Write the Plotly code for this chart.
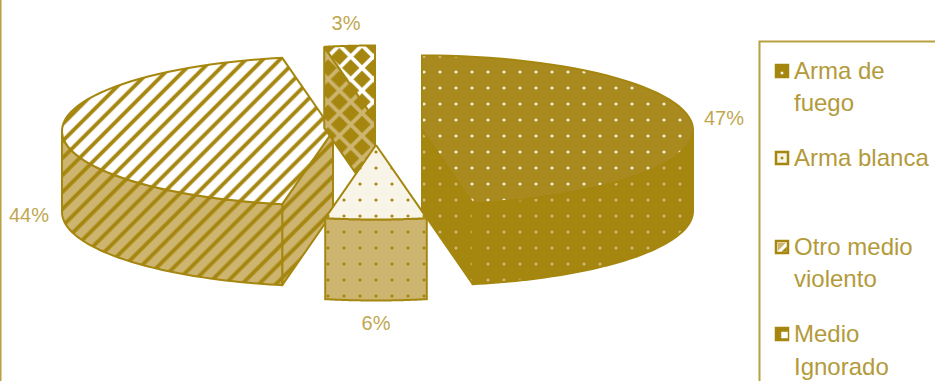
import numpy as np
import plotly.graph_objects as go

# Share of each cause, in percent, clockwise from twelve o'clock
categories = ["Arma de fuego", "Arma blanca", "Otro medio violento", "Medio Ignorado"]
percent = [47, 6, 44, 3]
legend_labels = ["Arma de<br>fuego", "Arma blanca", "Otro medio<br>violento", "Medio<br>Ignorado"]

# Palette
GOLD = "#A5860F"
GOLD_TOP = "#A98A1F"
TAN = "#CDB56F"
IVORY = "#F8F5E8"
WHITE = "#FFFFFF"
TEXT = "#BFA850"
LEGEND_TEXT = "#B39A3A"
FRAME = "#B9A040"

# Projection of the tilted disc, in axis units
RX, RY, DEPTH = 271, 74.5, 81
# Position of each exploded slice's apex on the top face
APEX = {
    "Arma de fuego": (422, 130),
    "Arma blanca": (376, 145),
    "Otro medio violento": (333, 131),
    "Medio Ignorado": (375, 120),
}
# Which straight cut of a slice faces the viewer (0 = leading edge, 1 = trailing edge)
VISIBLE_CUT = {"Arma de fuego": 1, "Otro medio violento": 0, "Medio Ignorado": 0}


def rim(apex, a0, a1, n=60):
    """Points on the elliptical rim between two clockwise angles (degrees)."""
    t = np.radians(np.linspace(a0, a1, n))
    return apex[0] + RX * np.sin(t), apex[1] - RY * np.cos(t)


def top_face(apex, a0, a1):
    x, y = rim(apex, a0, a1)
    return np.r_[apex[0], x, apex[0]], np.r_[apex[1], y, apex[1]]


def rim_wall(apex, a0, a1):
    """Extruded outer wall, limited to the front half of the disc."""
    a0, a1 = max(a0, 90), min(a1, 270)
    x, y = rim(apex, a0, a1)
    return np.r_[x, x[::-1], x[0]], np.r_[y, y[::-1] + DEPTH, y[0]]


def cut_wall(apex, angle):
    """Extruded straight cut from the apex to the rim at the given angle."""
    x, y = rim(apex, angle, angle, 1)
    return (
        np.array([apex[0], x[0], x[0], apex[0], apex[0]]),
        np.array([apex[1], y[0], y[0] + DEPTH, apex[1] + DEPTH, apex[1]]),
    )


def piece(name, xy, fill, pattern, line=GOLD):
    return go.Scatter(
        x=xy[0], y=xy[1], mode="lines", name=name, fill="toself", fillcolor=fill,
        fillpattern=pattern, line=dict(color=line, width=2, simplify=False),
        hoverinfo="name", showlegend=False,
    )


def dots(bg, fg, solidity=0.03):
    return dict(shape=".", bgcolor=bg, fgcolor=fg, fgopacity=1, size=16, solidity=solidity)


hatch_w = dict(shape="/", bgcolor=WHITE, fgcolor=GOLD, fgopacity=1, size=12, solidity=0.32)
hatch_t = dict(shape="/", bgcolor=TAN, fgcolor=GOLD, fgopacity=1, size=12, solidity=0.32)
check_w = dict(shape="x", bgcolor=GOLD, fgcolor=WHITE, fgopacity=1, size=16, solidity=0.42)
check_t = dict(shape="x", bgcolor=GOLD, fgcolor=TAN, fgopacity=1, size=16, solidity=0.42)

# Slice styling: top face and walls
STYLE = {
    "Arma de fuego": (GOLD_TOP, dots(GOLD_TOP, "#F4EFD8"), GOLD, dots(GOLD, "#CDBB78")),
    "Arma blanca": (IVORY, dots(IVORY, GOLD), TAN, dots(TAN, GOLD)),
    "Otro medio violento": (WHITE, hatch_w, TAN, hatch_t),
    "Medio Ignorado": (WHITE, check_w, TAN, check_t),
}

# Cumulative angles of each slice
edges = np.cumsum([0] + percent) * 3.6
span = {c: (edges[i], edges[i + 1]) for i, c in enumerate(categories)}

fig = go.Figure()
for name in ["Otro medio violento", "Medio Ignorado", "Arma de fuego", "Arma blanca"]:
    apex = APEX[name]
    a0, a1 = span[name]
    top_fill, top_pat, wall_fill, wall_pat = STYLE[name]
    # Walls facing the viewer come first, then the top face over them
    if name in VISIBLE_CUT:
        fig.add_trace(piece(name, cut_wall(apex, (a0, a1)[VISIBLE_CUT[name]]), wall_fill, wall_pat))
    if a1 > 90 and a0 < 270:
        fig.add_trace(piece(name, rim_wall(apex, a0, a1), wall_fill, wall_pat))
    fig.add_trace(piece(name, top_face(apex, a0, a1), top_fill, top_pat))

# Percentage labels
label_pos = {
    "Arma de fuego": (724, 120),
    "Arma blanca": (376, 325),
    "Otro medio violento": (29, 217),
    "Medio Ignorado": (346, 25),
}
fig.add_trace(go.Scatter(
    x=[label_pos[c][0] for c in categories],
    y=[label_pos[c][1] for c in categories],
    text=[f"{p}%" for p in percent],
    mode="text", textposition="middle center",
    textfont=dict(family="Liberation Sans, Arial, sans-serif", size=20, color=TEXT),
    hoverinfo="skip", showlegend=False,
))

# Legend key: swatches and wrapped captions at hand-set rows
LEG_X, LEG_TEXT_X = 782, 792
LEG_Y = [71, 158, 247, 334]
LEG_TEXT_Y = [[70, 102], [157], [246, 278], [333, 366]]
SW = 12

swatch_base = [GOLD, IVORY, WHITE, GOLD]


def swatch_detail(x, y, symbol, size, color):
    fig.add_trace(go.Scatter(
        x=x, y=y, mode="markers", marker=dict(symbol=symbol, size=size, color=color),
        hoverinfo="skip", showlegend=False,
    ))


fig.add_trace(go.Scatter(
    x=[LEG_X] * 4, y=LEG_Y, mode="markers",
    marker=dict(symbol="square", size=SW, color=swatch_base, line=dict(color=GOLD, width=2.5)),
    hoverinfo="skip", showlegend=False,
))
swatch_detail([LEG_X - 1.5], [LEG_Y[2] - 1.5], "triangle-nw", SW - 3, TAN)
swatch_detail([LEG_X + 3], [LEG_Y[2] + 3], "triangle-se", 6, GOLD)
swatch_detail([LEG_X, LEG_X], [LEG_Y[0] + 2, LEG_Y[1]], "square", 2.5, [WHITE, GOLD])
swatch_detail([LEG_X + 2.5], [LEG_Y[3] + 1], "square", 6.5, WHITE)

for label, rows in zip(legend_labels, LEG_TEXT_Y):
    for line_text, y in zip(label.split("<br>"), rows):
        fig.add_annotation(
            x=LEG_TEXT_X, y=y, text=line_text, xanchor="left", yanchor="middle", align="left",
            showarrow=False, xref="x", yref="y",
            font=dict(family="Liberation Sans, Arial, sans-serif", size=24, color=LEGEND_TEXT),
        )

# Legend frame runs off the page; the chart frame shows on the left edge
fig.add_shape(type="rect", x0=759.5, y0=41.5, x1=945, y1=395,
              line=dict(color=FRAME, width=2), fillcolor="rgba(0,0,0,0)", layer="below")
fig.add_shape(type="line", x0=0.5, y0=0, x1=0.5, y1=381, line=dict(color=FRAME, width=2), layer="below")

fig.update_layout(
    width=935, height=381, margin=dict(l=0, r=0, t=0, b=0),
    paper_bgcolor="white", plot_bgcolor="white", showlegend=False,
    xaxis=dict(range=[0, 935], visible=False, fixedrange=True),
    yaxis=dict(range=[381, 0], visible=False, fixedrange=True),
)
fig.write_html("out.html", config={"displayModeBar": False})
